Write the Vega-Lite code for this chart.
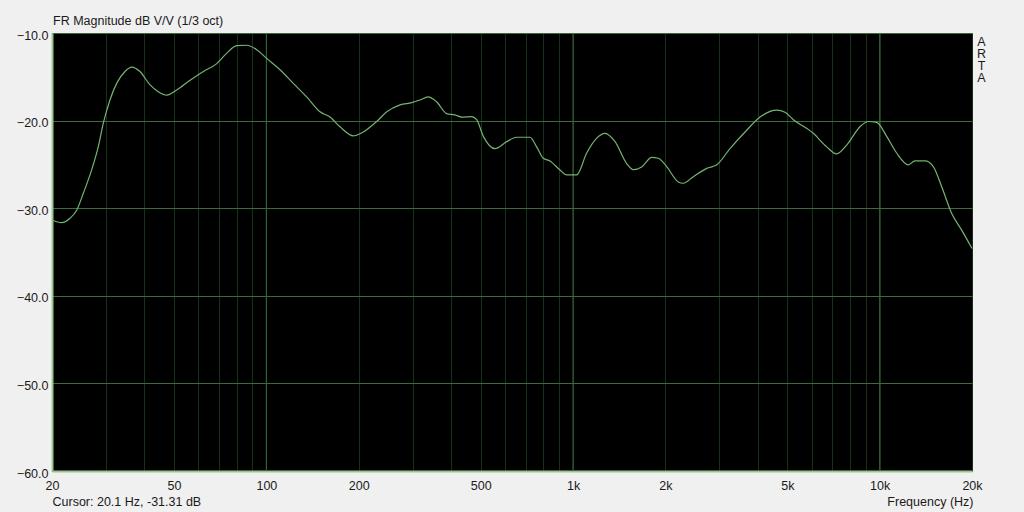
{
  "$schema": "https://vega.github.io/schema/vega-lite/v6.json",
  "width": 920,
  "height": 438,
  "autosize": {"type": "none"},
  "padding": {"left": 52, "top": 33, "right": 52, "bottom": 41},
  "background": "#f0f0f0",
  "config": {
    "view": {"fill": "#000000", "stroke": "#86ad86", "strokeWidth": 1},
    "font": "Liberation Sans",
    "axis": {"labelFont": "Liberation Sans", "titleFont": "Liberation Sans", "labelFontSize": 12.5, "titleFontSize": 12.5, "labelColor": "#1a1a1a", "titleColor": "#1a1a1a", "titleFontWeight": "normal"}
  },
  "title": {
    "text": "FR Magnitude dB V/V (1/3 oct)",
    "anchor": "start",
    "frame": "group",
    "orient": "top",
    "offset": 2,
    "dx": 1,
    "font": "Liberation Sans",
    "fontSize": 12.5,
    "fontWeight": "normal",
    "color": "#1a1a1a"
  },
  "datasets": {
    "decades": [{"f": 100}, {"f": 1000}, {"f": 10000}],
    "fr": [
      {"f": 20.0, "db": -31.35},
      {"f": 21.5, "db": -31.65},
      {"f": 22.9, "db": -31.15},
      {"f": 24.1, "db": -30.2},
      {"f": 25.3, "db": -28.3},
      {"f": 26.95, "db": -25.6},
      {"f": 28.3, "db": -23.0},
      {"f": 29.4, "db": -20.3},
      {"f": 30.9, "db": -17.65},
      {"f": 32.5, "db": -15.75},
      {"f": 34.6, "db": -14.4},
      {"f": 36.4, "db": -13.9},
      {"f": 38.7, "db": -14.4},
      {"f": 41.7, "db": -15.9},
      {"f": 44.4, "db": -16.7},
      {"f": 47.3, "db": -17.1},
      {"f": 51.0, "db": -16.5},
      {"f": 56.4, "db": -15.4},
      {"f": 62.3, "db": -14.4},
      {"f": 68.9, "db": -13.5},
      {"f": 74.3, "db": -12.3},
      {"f": 80.1, "db": -11.45},
      {"f": 86.3, "db": -11.4},
      {"f": 93.0, "db": -11.9},
      {"f": 100.2, "db": -12.9},
      {"f": 110.8, "db": -14.2},
      {"f": 122.4, "db": -15.75},
      {"f": 135.4, "db": -17.3},
      {"f": 149.6, "db": -19.0},
      {"f": 161.3, "db": -19.6},
      {"f": 173.8, "db": -20.7},
      {"f": 192.2, "db": -21.75},
      {"f": 202, "db": -21.5},
      {"f": 207, "db": -21.3},
      {"f": 229, "db": -20.1},
      {"f": 247, "db": -19.0},
      {"f": 273, "db": -18.2},
      {"f": 298, "db": -17.95},
      {"f": 317, "db": -17.65},
      {"f": 337, "db": -17.3},
      {"f": 359, "db": -17.85},
      {"f": 387, "db": -19.2},
      {"f": 412, "db": -19.35},
      {"f": 434, "db": -19.6},
      {"f": 467, "db": -19.55},
      {"f": 485, "db": -19.9},
      {"f": 510, "db": -21.8},
      {"f": 557, "db": -23.2},
      {"f": 608, "db": -22.4},
      {"f": 655, "db": -21.9},
      {"f": 724, "db": -21.9},
      {"f": 761, "db": -23.0},
      {"f": 800, "db": -24.3},
      {"f": 841, "db": -24.6},
      {"f": 907, "db": -25.65},
      {"f": 954, "db": -26.2},
      {"f": 1028, "db": -26.2},
      {"f": 1108, "db": -23.7},
      {"f": 1195, "db": -22.0},
      {"f": 1271, "db": -21.45},
      {"f": 1371, "db": -22.4},
      {"f": 1496, "db": -24.9},
      {"f": 1572, "db": -25.6},
      {"f": 1675, "db": -25.3},
      {"f": 1805, "db": -24.2},
      {"f": 1897, "db": -24.3},
      {"f": 2020, "db": -25.25},
      {"f": 2204, "db": -27.0},
      {"f": 2288, "db": -27.15},
      {"f": 2468, "db": -26.4},
      {"f": 2728, "db": -25.45},
      {"f": 2942, "db": -25.05},
      {"f": 3250, "db": -23.2},
      {"f": 3684, "db": -21.1},
      {"f": 4072, "db": -19.6},
      {"f": 4616, "db": -18.8},
      {"f": 4912, "db": -19.05},
      {"f": 5230, "db": -19.9},
      {"f": 6074, "db": -21.45},
      {"f": 6718, "db": -23.0},
      {"f": 7242, "db": -23.8},
      {"f": 7806, "db": -22.8},
      {"f": 8626, "db": -20.7},
      {"f": 9180, "db": -20.1},
      {"f": 9780, "db": -20.2},
      {"f": 10540, "db": -21.8},
      {"f": 11360, "db": -23.7},
      {"f": 12400, "db": -25.05},
      {"f": 13036, "db": -24.6},
      {"f": 14052, "db": -24.6},
      {"f": 14956, "db": -25.25},
      {"f": 15930, "db": -27.55},
      {"f": 17174, "db": -30.6},
      {"f": 18512, "db": -32.5},
      {"f": 20000, "db": -34.6}
    ]
  },
  "encoding": {
    "x": {
      "field": "f",
      "type": "quantitative",
      "scale": {"type": "log", "domain": [20, 20000], "nice": false},
      "axis": {
        "values": [20, 30, 40, 50, 60, 70, 80, 90, 100, 200, 300, 400, 500, 600, 700, 800, 900, 1000, 2000, 3000, 4000, 5000, 6000, 7000, 8000, 9000, 10000, 20000],
        "labelExpr": "indexof([20,50,100,200,500,1000,2000,5000,10000,20000], datum.value) >= 0 ? (datum.value >= 1000 ? (datum.value/1000) + 'k' : datum.value + '') : ''",
        "grid": true,
        "gridColor": "#173017",
        "gridWidth": 1,
        "ticks": false,
        "labelPadding": 8,
        "labelFlush": false,
        "labelOverlap": false,
        "labelBound": false,
        "domainColor": "#9cc68c",
        "domainWidth": 2,
        "title": "Frequency (Hz)",
        "titleAnchor": "end",
        "titleAlign": "right",
        "titleBaseline": "alphabetic",
        "titleX": 921,
        "titleY": 34
      }
    }
  },
  "layer": [
    {
      "data": {"name": "decades"},
      "mark": {"type": "rule", "color": "#3b6a3b", "strokeWidth": 1},
      "encoding": {}
    },
    {
      "data": {"name": "fr"},
      "mark": {"type": "line", "color": "#72b472", "strokeWidth": 1.2, "interpolate": "monotone"},
      "encoding": {
        "y": {
          "field": "db",
          "type": "quantitative",
          "scale": {"domain": [-60, -10], "nice": false, "zero": false},
          "axis": {
            "values": [-60, -50, -40, -30, -20, -10],
            "format": ".1f",
            "grid": true,
            "gridColor": "#3b6a3b",
            "ticks": false,
            "labelPadding": 4,
            "labelOffset": 2,
            "labelBaseline": "middle",
            "labelFlush": false,
            "labelOverlap": false,
            "labelBound": false,
            "domainColor": "#9cc68c",
            "domainWidth": 2,
            "title": "Cursor: 20.1 Hz, -31.31 dB",
            "titleAngle": 0,
            "titleAlign": "left",
            "titleBaseline": "alphabetic",
            "titleX": 0,
            "titleY": 472
          }
        }
      }
    },
    {
      "data": {"name": "fr"},
      "mark": {"type": "line", "opacity": 0, "interpolate": "monotone"},
      "encoding": {
        "y": {
          "field": "db",
          "type": "quantitative",
          "scale": {"domain": [-60, -10], "nice": false, "zero": false},
          "axis": {
            "orient": "right",
            "labels": false,
            "ticks": false,
            "domain": false,
            "grid": false,
            "title": ["A", "R", "T", "A"],
            "titleAngle": 0,
            "titleAlign": "center",
            "titleBaseline": "top",
            "titleLineHeight": 12.3,
            "titleX": 9,
            "titleY": 2
          }
        }
      }
    }
  ],
  "resolve": {"axis": {"y": "independent"}}
}
